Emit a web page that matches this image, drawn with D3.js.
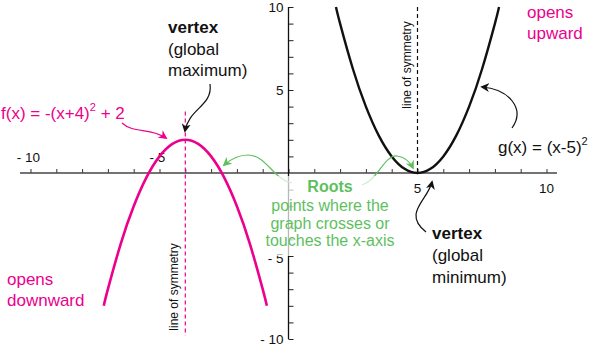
<!DOCTYPE html>
<html>
<head>
<meta charset="utf-8">
<script src="https://d3js.org/d3.v7.min.js"></script>
<style>
  html, body { margin: 0; padding: 0; background: #fff; }
  svg { display: block; font-family: "Liberation Sans", Arial, Helvetica, sans-serif; }
</style>
</head>
<body>
<svg id="chart" width="604" height="351"></svg>
<script>
// ---- data ----
const xTicks = d3.range(-10, 11);
const yTicks = d3.range(-10, 11);
const xLabelsAbove = [-10, -5];
const xLabelsBelow = [5, 10];
const yLabels = [10, 5, -5, -10];

// f(x) = -(x+4)^2 + 2
const fX = [-7.16, -7, -6.5, -6, -5.5, -5, -4.5, -4, -3.5, -3, -2.5, -2, -1.5, -1, -0.84];
const fY = [-8, -7, -4.25, -2, -0.25, 1, 1.75, 2, 1.75, 1, -0.25, -2, -4.25, -7, -8];
// g(x) = (x-5)^2
const gX = [1.84, 2, 2.5, 3, 3.5, 4, 4.5, 5, 5.5, 6, 6.5, 7, 7.5, 8, 8.16];
const gY = [10, 9, 6.25, 4, 2.25, 1, 0.25, 0, 0.25, 1, 2.25, 4, 6.25, 9, 10];

const fSymX = -4, fSymY = [3.7, -9.8];
const gSymX = 5, gSymY = [10, 0];

const PINK = "#ec008c", GREEN = "#5fbf5f", INK = "#111";

// ---- scales ----
const svg = d3.select("#chart");
const x = d3.scaleLinear().domain([-10, 10]).range([30.5, 546.5]);
const y = d3.scaleLinear().domain([-10, 10]).range([339, 7]);

const defs = svg.append("defs");
function marker(id, color) {
  defs.append("marker").attr("id", id)
    .attr("viewBox", "0 0 10 10").attr("refX", 8).attr("refY", 5)
    .attr("markerWidth", 9).attr("markerHeight", 9)
    .attr("markerUnits", "userSpaceOnUse")
    .attr("orient", "auto")
    .append("path").attr("d", "M0,0 L10,5 L0,10 L3,5 Z").attr("fill", color);
}
marker("arK", INK); marker("arP", PINK); marker("arG", GREEN);

// ---- axes ----
const xAxisG = svg.append("g").attr("transform", `translate(0,${y(0)})`)
  .call(d3.axisTop(x).tickValues(xTicks).tickSize(4).tickSizeOuter(0).tickFormat(""));
xAxisG.select(".domain").remove();
xAxisG.selectAll(".tick line").attr("stroke", "#333").attr("stroke-width", 1);
svg.append("line").attr("x1", 20).attr("x2", 557).attr("y1", y(0)).attr("y2", y(0))
  .attr("stroke", "#444").attr("stroke-width", 1.6);

const yAxisG = svg.append("g").attr("transform", `translate(${x(0)},0)`)
  .call(d3.axisRight(y).tickValues(yTicks.filter(d => d !== 0)).tickSize(5).tickSizeOuter(0).tickFormat(""));
yAxisG.select(".domain").remove();
yAxisG.selectAll(".tick line").attr("stroke", "#222").attr("stroke-width", 1);
svg.append("line").attr("x1", x(0)).attr("x2", x(0)).attr("y1", y(10)).attr("y2", y(-10))
  .attr("stroke", "#111").attr("stroke-width", 1.3);

// axis labels
svg.append("g").selectAll("text").data(xLabelsAbove).join("text")
  .attr("x", d => x(d) - 2).attr("y", y(0) - 11).attr("text-anchor", "middle")
  .attr("font-size", 13.5).attr("fill", INK).text(d => "- " + Math.abs(d));
svg.append("g").selectAll("text").data(xLabelsBelow).join("text")
  .attr("x", d => x(d)).attr("y", y(0) + 20).attr("text-anchor", "middle")
  .attr("font-size", 13.5).attr("fill", INK).text(d => d);
svg.append("g").selectAll("text").data(yLabels).join("text")
  .attr("x", x(0) - 5).attr("y", d => y(d) + (d === -5 ? 6.5 : 5)).attr("text-anchor", "end")
  .attr("font-size", 13.5).attr("fill", INK).text(d => d < 0 ? "- " + Math.abs(d) : d);

// ---- lines of symmetry ----
svg.append("line").attr("x1", x(fSymX)).attr("x2", x(fSymX))
  .attr("y1", y(fSymY[0])).attr("y2", y(fSymY[1]))
  .attr("stroke", PINK).attr("stroke-width", 1.2).attr("stroke-dasharray", "4,3");
svg.append("line").attr("x1", x(gSymX)).attr("x2", x(gSymX))
  .attr("y1", y(gSymY[0])).attr("y2", y(gSymY[1]))
  .attr("stroke", INK).attr("stroke-width", 1.2).attr("stroke-dasharray", "4,3");
svg.append("text").attr("transform", `translate(${x(fSymX) - 7},287) rotate(-90)`)
  .attr("text-anchor", "middle").attr("font-size", 12).attr("fill", INK).text("line of symmetry");
svg.append("text").attr("transform", `translate(${x(gSymX) - 7},65) rotate(-90)`)
  .attr("text-anchor", "middle").attr("font-size", 12).attr("fill", INK).text("line of symmetry");

// ---- curves ----
const line = d3.line().x(d => x(d[0])).y(d => y(d[1])).curve(d3.curveNatural);
svg.append("path").attr("d", line(d3.zip(fX, fY)))
  .attr("fill", "none").attr("stroke", PINK).attr("stroke-width", 2.6);
svg.append("path").attr("d", line(d3.zip(gX, gY)))
  .attr("fill", "none").attr("stroke", INK).attr("stroke-width", 2.4);

// ---- annotation arrows ----
function arrow(d, color, m) {
  svg.append("path").attr("d", d).attr("fill", "none").attr("stroke", color)
    .attr("stroke-width", 1.2).attr("marker-end", `url(#${m})`);
}
arrow("M122,123 C134,134 150,127 166,138", PINK, "arP");
arrow("M210,84 C213,106 189,108 185,131", INK, "arK");
arrow("M512,128 C526,108 508,89 482,87", INK, "arK");
arrow("M426,232 C402,213 428,200 432,182", INK, "arK");
arrow("M292,183 C274,180 266,155 248,155 C239,155 231,159 224,165", GREEN, "arG");
arrow("M362,185 C378,180 384,155 397,156 C405,157 410,162 413,168", GREEN, "arG");

// translucent backdrop behind the roots text
svg.append("rect").attr("x", 262).attr("y", 176).attr("width", 140).attr("height", 80)
  .attr("fill", "#fff").attr("opacity", 0.7);

// ---- text ----
function textLines(xp, ys, lines, opts) {
  lines.forEach((t, i) => {
    svg.append("text").attr("x", xp).attr("y", ys[i])
      .attr("font-size", opts.size).attr("fill", opts.color)
      .attr("font-weight", i === 0 && opts.boldFirst ? "bold" : "normal")
      .attr("text-anchor", opts.anchor || "start").text(t);
  });
}
textLines(168, [33, 55, 76], ["vertex", "(global", "maximum)"], { size: 17, color: INK, boldFirst: true });
textLines(432, [239, 261, 283], ["vertex", "(global", "minimum)"], { size: 17, color: INK, boldFirst: true });
textLines(527, [18, 39], ["opens", "upward"], { size: 17, color: PINK });
textLines(7, [285, 306], ["opens", "downward"], { size: 17, color: PINK });
textLines(330, [192, 211, 229, 246], ["Roots", "points where the", "graph crosses or", "touches the x-axis"],
  { size: 16, color: GREEN, boldFirst: true, anchor: "middle" });

const fl = svg.append("text").attr("x", 1).attr("y", 119).attr("font-size", 17).attr("fill", PINK);
fl.append("tspan").text("f(x) = -(x+4)");
fl.append("tspan").attr("dy", -8).attr("font-size", 11).text("2");
fl.append("tspan").attr("dy", 8).text(" + 2");

const gl = svg.append("text").attr("x", 498).attr("y", 153).attr("font-size", 17).attr("fill", INK);
gl.append("tspan").text("g(x) = (x-5)");
gl.append("tspan").attr("dy", -8).attr("font-size", 11).text("2");
</script>
</body>
</html>
